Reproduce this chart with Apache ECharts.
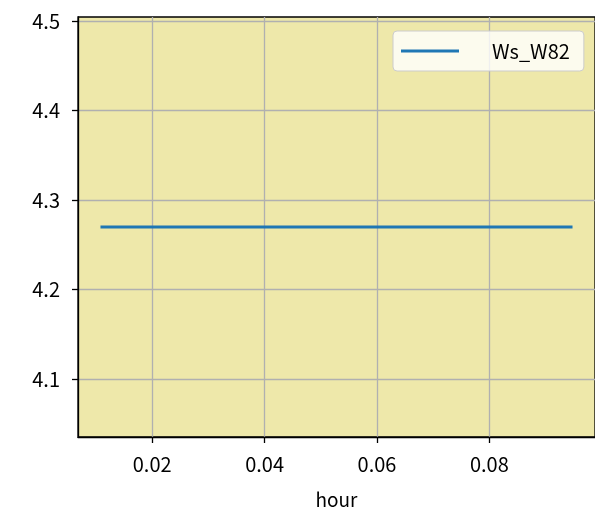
<!DOCTYPE html>
<html><head><meta charset="utf-8">
<script src="https://cdn.jsdelivr.net/npm/echarts@6/dist/echarts.min.js"></script>
<style>html,body{margin:0;padding:0;background:#fff}#c{width:595px;height:527px}</style>
</head><body><div id="c"></div>
<script>
const seriesName = 'Ws_W82';
const hours = [0.0108, 0.0948];
const wsValues = [4.27, 4.27];
const xTicks = [0.02, 0.04, 0.06, 0.08];
const yTicks = [4.1, 4.2, 4.3, 4.4, 4.5];
const xRange = [0.0068, 0.0988];
const yRange = [4.0352, 4.5048];

const FONT = '"Noto Sans CJK JP", "Noto Sans", sans-serif';
const chart = echarts.init(document.getElementById('c'), null, {renderer: 'canvas'});
chart.setOption({
  animation: false,
  backgroundColor: '#ffffff',
  grid: {
    left: 78, top: 17, right: 0, bottom: 90,
    show: true, backgroundColor: '#eee8aa', borderColor: '#000', borderWidth: 1.3
  },
  legend: {
    show: true, left: 393, top: 31,
    data: [{name: seriesName, icon: 'rect'}],
    itemWidth: 58, itemHeight: 3,
    padding: [10, 14, 10, 8],
    backgroundColor: 'rgba(255,255,255,0.8)',
    borderColor: '#cccccc', borderWidth: 1, borderRadius: 4,
    textStyle: {fontFamily: FONT, fontSize: 20, color: '#000', padding: [0, 0, 0, 28]}
  },
  xAxis: {
    type: 'value', min: xRange[0], max: xRange[1],
    name: 'hour', nameLocation: 'middle', nameGap: 53,
    nameTextStyle: {fontFamily: FONT, fontSize: 19, color: '#000'},
    axisLine: {show: true, onZero: false, lineStyle: {color: '#000', width: 1.3}},
    axisTick: {show: true, length: 6, customValues: xTicks, lineStyle: {color: '#000', width: 1.3}},
    axisLabel: {customValues: xTicks, fontFamily: FONT, fontSize: 20, color: '#000', margin: 17,
      formatter: v => v.toFixed(2)},
    splitLine: {show: true, lineStyle: {color: '#b0b0b0', width: 1.3}}
  },
  yAxis: {
    type: 'value', min: yRange[0], max: yRange[1],
    axisLine: {show: true, onZero: false, lineStyle: {color: '#000', width: 1.3}},
    axisTick: {show: true, length: 6, customValues: yTicks, lineStyle: {color: '#000', width: 1.3}},
    axisLabel: {customValues: yTicks, fontFamily: FONT, fontSize: 20, color: '#000', margin: 18,
      formatter: v => v.toFixed(1)},
    splitLine: {show: true, lineStyle: {color: '#b0b0b0', width: 1.3}}
  },
  series: [{
    name: seriesName, type: 'line',
    data: hours.map((h, i) => [h, wsValues[i]]),
    showSymbol: false, symbol: 'none',
    lineStyle: {color: '#1f77b4', width: 2.8},
    itemStyle: {color: '#1f77b4'}
  }]
});
</script></body></html>
